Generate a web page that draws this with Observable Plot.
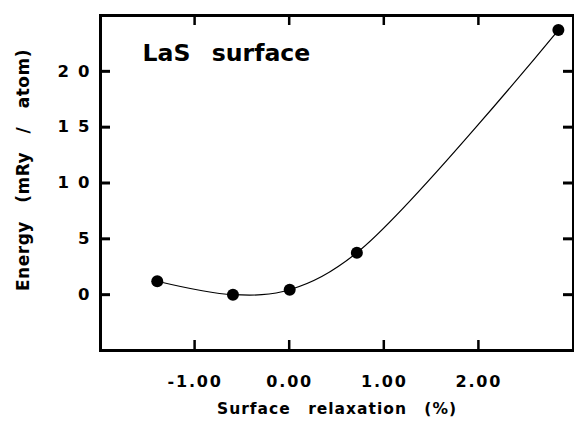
<!DOCTYPE html>
<html><head><meta charset="utf-8">
<script src="https://cdn.jsdelivr.net/npm/d3@7"></script>
<script src="https://cdn.jsdelivr.net/npm/@observablehq/plot@0.6"></script>
<style>
body{margin:0;background:#fff;}
g[aria-label="x-axis tick label"]{letter-spacing:1.8px;}
g[aria-label="y-axis tick label"]{letter-spacing:9px;}
</style>
</head><body>
<div id="chart"></div>
<script>
const relaxation = [-1.4, -0.6, 0.0, 0.71, 2.84];
const energy = [1.2, 0.0, 0.44, 3.75, 23.7];
const xTicks = [-1, 0, 1, 2];
const yTicks = [0, 5, 10, 15, 20];
const titleText = "LaS surface";
const xLabel = "Surface relaxation (%)";
const yLabel = "Energy (mRy / atom)";

const data = relaxation.map((x, i) => ({x, y: energy[i]}));
const W = 574, H = 422, ML = 100, MR = 1, MT = 15, MB = 72;
const frameW = W - ML - MR, frameH = H - MT - MB, tickLen = 10;

const chart = Plot.plot({
  width: W, height: H,
  marginLeft: ML, marginRight: MR, marginTop: MT, marginBottom: MB,
  style: {background: "#fff", color: "#000", fontWeight: "bold", fontFamily: "DejaVu Sans"},
  x: {domain: [-2, 3], axis: null},
  y: {domain: [-5, 25], axis: null},
  marks: [
    Plot.frame({strokeWidth: 3, stroke: "#000"}),
    Plot.line(data, {x: "x", y: "y", curve: "catmull-rom", stroke: "#000", strokeWidth: 1.2}),
    Plot.dot(data, {x: "x", y: "y", r: 6, fill: "#000"}),
    Plot.rect(xTicks, {x1: d => d, x2: d => d, insetLeft: -1.25, insetRight: -1.25, insetTop: frameH - tickLen, fill: "#000"}),
    Plot.rect(xTicks, {x1: d => d, x2: d => d, insetLeft: -1.25, insetRight: -1.25, insetBottom: frameH - tickLen, fill: "#000"}),
    Plot.ruleY(yTicks, {y: d => d, insetRight: frameW - tickLen, strokeWidth: 3, stroke: "#000"}),
    Plot.ruleY(yTicks, {y: d => d, insetLeft: frameW - tickLen, strokeWidth: 3, stroke: "#000"}),
    Plot.axisX(xTicks, {anchor: "bottom", tickSize: 0, tickPadding: 25, tickFormat: d => d.toFixed(2), fontSize: 16, fontWeight: "bold", label: null}),
    Plot.axisY(yTicks, {anchor: "left", tickSize: 0, tickPadding: 2, tickFormat: d => String(d), fontSize: 16.5, fontWeight: "bold", label: null}),
    Plot.text([titleText], {frameAnchor: "top-left", textAnchor: "start", lineAnchor: "top", dx: 42, dy: 29, fontSize: 23.6, fontWeight: "bold", fill: "#000"}),
    Plot.text([xLabel], {frameAnchor: "bottom", textAnchor: "middle", lineAnchor: "top", dy: 52, fontSize: 15.5, fontWeight: "bold", fill: "#000"}),
    Plot.text([yLabel], {frameAnchor: "left", rotate: -90, textAnchor: "middle", lineAnchor: "middle", dx: -77, dy: -13, fontSize: 17, fontWeight: "bold", fill: "#000"})
  ]
});
document.getElementById("chart").appendChild(chart);
chart.querySelectorAll('g[aria-label="text"] text').forEach(t => {
  if (t.textContent === titleText) t.style.wordSpacing = "13px";
  if (t.textContent === xLabel) { t.style.letterSpacing = "1px"; t.style.wordSpacing = "11px"; }
  if (t.textContent === yLabel) { t.style.letterSpacing = "0.5px"; t.style.wordSpacing = "12px"; }
});
</script>
</body></html>
